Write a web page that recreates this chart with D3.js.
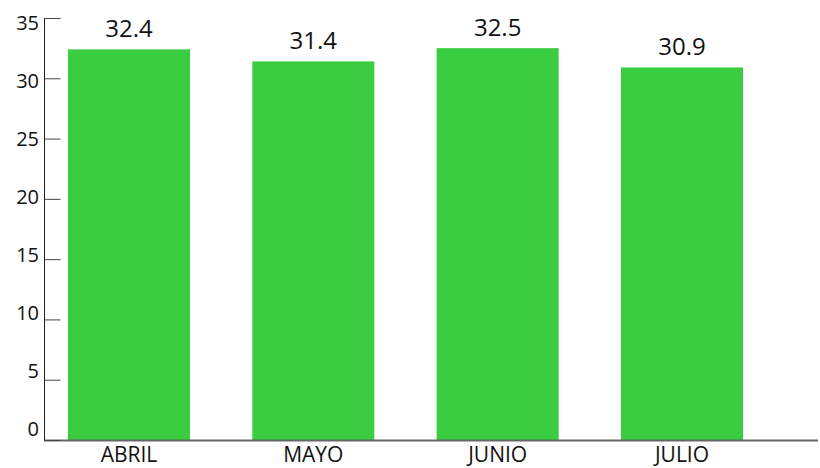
<!DOCTYPE html>
<html><head><meta charset="utf-8">
<script src="https://cdn.jsdelivr.net/npm/d3@7"></script>
<style>body{margin:0;background:#fff}svg{display:block}text{font-family:"Open Sans",sans-serif;fill:#111}</style>
</head><body><svg id="c" width="820" height="468"></svg>
<script>
const categories = ["ABRIL","MAYO","JUNIO","JULIO"];
const values = [32.4, 31.4, 32.5, 30.9];
const yTicks = [0,5,10,15,20,25,30,35];

const svg = d3.select("#c");
const x = d3.scaleBand().domain(categories).range([44, 767]).paddingInner(0.338).paddingOuter(0.13);
const y = d3.scaleLinear().domain([0,35]).range([440,18]);
// tick labels are laid out on their own slightly tighter ladder
const yLab = d3.scaleLinear().domain([0,35]).range([436,30]);

svg.selectAll("rect.bar").data(values).join("rect")
  .attr("class","bar")
  .attr("x",(d,i)=>x(categories[i]))
  .attr("width",x.bandwidth())
  .attr("y",d=>y(d))
  .attr("height",d=>y(0)-y(d)+1)
  .attr("fill","#3acc41");

// x axis line
svg.append("line").attr("x1",44).attr("x2",818).attr("y1",y(0)+0.5).attr("y2",y(0)+0.5)
  .attr("stroke","#666").attr("stroke-width",2);

// y axis
const yAxis = d3.axisRight(y).tickValues(yTicks).tickSize(16).tickFormat("");
const gy = svg.append("g").attr("transform","translate(44.5,0)").call(yAxis);
gy.select(".domain").attr("stroke","#222").attr("d",`M0,${y(35)}V${y(0)}`);
gy.selectAll(".tick line").attr("stroke","#444");
svg.selectAll("text.yt").data(yTicks).join("text").attr("class","yt")
  .attr("x",39).attr("y",d=>yLab(d)).attr("text-anchor","end")
  .attr("font-size",20).text(d=>d);

// category labels
svg.selectAll("text.cat").data(categories).join("text").attr("class","cat")
  .attr("x",d=>x(d)+x.bandwidth()/2).attr("y",462).attr("text-anchor","middle")
  .attr("font-size",21).text(d=>d);

// value labels
svg.selectAll("text.val").data(values).join("text").attr("class","val")
  .attr("x",(d,i)=>x(categories[i])+x.bandwidth()/2).attr("y",d=>y(d)-12).attr("text-anchor","middle")
  .attr("font-size",24).text(d=>d.toFixed(1));
</script></body></html>
